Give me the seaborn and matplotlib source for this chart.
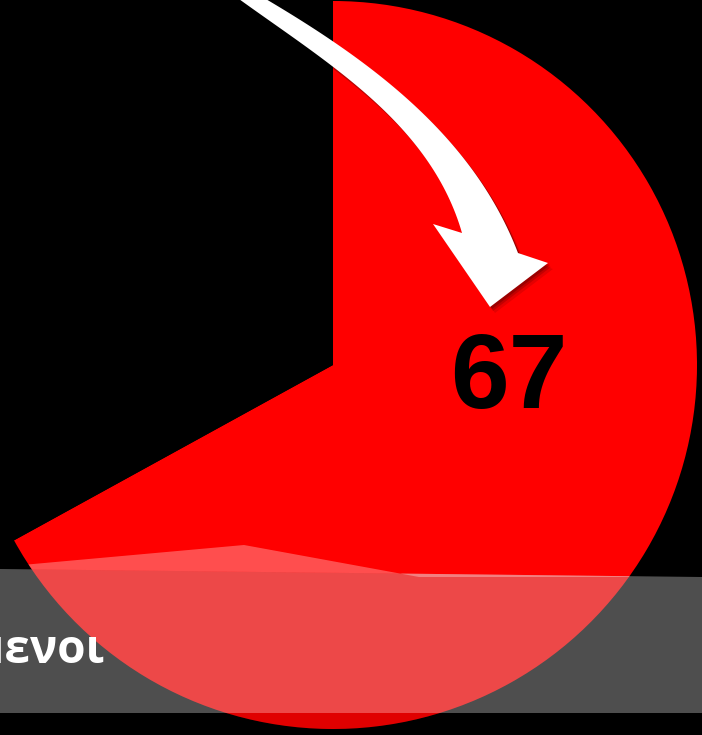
import numpy as np
import matplotlib
matplotlib.use("Agg")
import matplotlib.pyplot as plt
import seaborn as sns
from matplotlib.patches import Polygon

# -----------------------------
# Data
# -----------------------------
values = [67, 33]
slice_colors = ["#ff0000", "#000000"]
value_label = "67"
band_label = "Ερωτώμενοι"

W, H = 702, 735

sns.set_theme(style="dark", rc={"axes.facecolor": "black",
                                "figure.facecolor": "black",
                                "savefig.facecolor": "black"})
plt.rcParams["font.family"] = ["Liberation Sans", "DejaVu Sans"]


def py(pts):
    # pixel coords (y down) -> axes coords (y up)
    pts = np.asarray(pts, float)
    return np.column_stack([pts[:, 0], H - pts[:, 1]])


def smooth(pts, n=80, deg=3):
    # smooth parametric curve through rough outline points
    pts = np.asarray(pts, float)
    d = np.r_[0, np.cumsum(np.hypot(*np.diff(pts, axis=0).T))]
    t = d / d[-1]
    w = np.ones(len(t))
    w[0] = w[-1] = 10
    cx = np.polyfit(t, pts[:, 0], deg, w=w)
    cy = np.polyfit(t, pts[:, 1], deg, w=w)
    tt = np.linspace(0, 1, n)
    out = np.column_stack([np.polyval(cx, tt), np.polyval(cy, tt)])
    out[-1] = pts[-1]
    return out


fig = plt.figure(figsize=(W / 100, H / 100), dpi=100)
ax = fig.add_axes([0, 0, 1, 1])

# -----------------------------
# Pie
# -----------------------------
wedges, _ = ax.pie(values, colors=slice_colors, startangle=90, counterclock=False,
                   center=(333, H - 365), radius=364,
                   wedgeprops=dict(linewidth=0))
red = wedges[0]

ax.set_xlim(0, W)
ax.set_ylim(0, H)
ax.set_aspect("equal")
ax.axis("off")

# -----------------------------
# Gray band + gloss
# -----------------------------
band_shape = [(0, 569), (W, 577), (W, 713), (0, 713)]
band = Polygon(py(band_shape), closed=True, facecolor="white",
               alpha=0.31, lw=0, zorder=2)
ax.add_patch(band)

band_dark = Polygon(py(band_shape), closed=True, facecolor="black",
                    alpha=0.07, lw=0, zorder=2)
ax.add_patch(band_dark)
band_dark.set_clip_path(red)

gloss = Polygon(py([(0, 567), (244, 545), (419, 577), (W, 577), (0, 569)]),
                closed=True, facecolor="white", alpha=0.31, lw=0, zorder=2)
ax.add_patch(gloss)
gloss.set_clip_path(red)

bottom_dark = Polygon(py([(0, 713), (W, 713), (W, H), (0, H)]),
                      closed=True, facecolor="black", alpha=0.12, lw=0, zorder=2)
ax.add_patch(bottom_dark)
bottom_dark.set_clip_path(red)

# -----------------------------
# Curved arrow
# -----------------------------
lower = smooth([(192, -37), (242, 0), (340, 72), (373, 103), (407, 133),
                (430, 165), (450, 195), (460, 228), (462, 233)])
upper = smooth([(203, -37), (263, 0), (333, 40), (407, 97), (440, 130),
                (468, 168), (495, 203), (507, 227), (518, 253)])
head = np.array([(433, 224), (490, 307), (548, 263)], float)
arrow_pts = np.vstack([lower, head, upper[::-1]])

for dx, dy, a in [(5, 6, 0.10), (3, 4, 0.15), (2, 2, 0.2)]:
    shadow = Polygon(py(arrow_pts + [dx, dy]), closed=True,
                     facecolor="black", alpha=a, lw=0, zorder=3)
    ax.add_patch(shadow)

ax.add_patch(Polygon(py(arrow_pts), closed=True, facecolor="white",
                     lw=0, zorder=4))

# -----------------------------
# Labels
# -----------------------------
ax.text(509, H - 408, value_label, ha="center", va="baseline",
        fontsize=76, fontweight="bold", color="black", zorder=5)

ax.text(105, H - 663, band_label, ha="right", va="baseline",
        fontsize=33, fontweight="bold", color="white", zorder=5,
        family=["Open Sans", "DejaVu Sans"])

fig.savefig("out.png", dpi=100, facecolor="black")
